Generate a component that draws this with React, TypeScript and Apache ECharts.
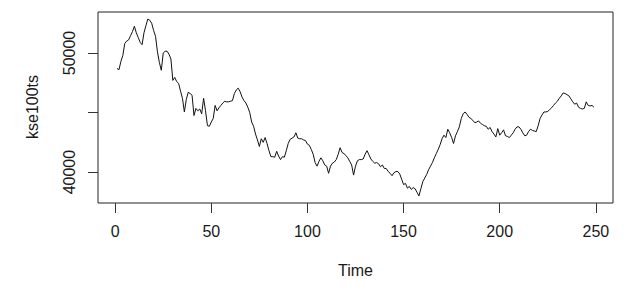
import React, { useEffect, useRef } from "react";
import * as echarts from "echarts";

const xTicks = [0, 50, 100, 150, 200, 250];
const yTicks = [40000, 45000, 50000];
const yLabels = [40000, 50000];
const xTitle = "Time";
const yTitle = "kse100ts";

const kse100ts = [
  48700, 48600, 49300, 49800, 50800, 51000, 51100, 51450, 51800, 52250,
  51700, 51300, 50900, 50700, 51700, 52300, 52850, 52750, 52500, 51900,
  51400, 50100, 49200, 48550, 50000, 50150, 50150, 49900, 49500, 47700,
  47950, 47600, 47450, 46800, 46200, 45050, 46100, 46700, 46600, 46450,
  44750, 45350, 45150, 45300, 44900, 46200, 45150, 43900, 43850, 44200,
  44500, 45600, 45150, 45400, 45600, 45800, 45950, 45900, 45900, 45950,
  46000, 46600, 46900, 47050, 46750, 46300, 46000, 45800, 45450, 45000,
  44200, 43850, 43200, 42700, 42150, 42800, 42500, 42900, 42400, 41800,
  41300, 41300, 41250, 41750, 41350, 41050, 41300, 41250, 41800, 42400,
  42750, 42850, 42950, 43300, 42850, 42800, 42800, 42700, 42650, 42350,
  42250, 41900, 41500, 40800, 40500, 40900, 41200, 40950, 40600, 40500,
  39900, 40500, 40750, 40850, 41050, 41500, 42050, 41650, 41550, 41400,
  41200, 40900, 40600, 39750, 40500, 40950, 41050, 41050, 41100, 41500,
  41800, 41450, 41100, 40900, 40750, 40800, 40700, 40450, 40600, 40300,
  40300, 40050, 39900, 39700, 39950, 40050, 40050, 39850, 39400, 38950,
  39050, 38650, 38800, 38550, 38700, 38600, 38300, 38000, 38600, 39200,
  39500, 39800, 40200, 40500, 40800, 41200, 41550, 41900, 42300, 42800,
  43100, 42900, 43600, 43300, 42900, 42400, 43050, 43400, 43800, 44500,
  44900, 45050, 44850, 44600, 44500, 44350, 44150, 44200, 44300, 44100,
  44000, 43900, 43850, 43600, 43750, 43400, 43200, 42950, 43650, 43100,
  43300, 43550, 43050, 43000, 42900, 43100, 43300, 43600, 43800, 43800,
  43600, 43300, 43050, 43100, 43400, 43600, 43500, 43450, 43400, 43900,
  44500, 44800, 45050, 45050, 45100, 45250, 45400, 45600, 45800, 45950,
  46200, 46400, 46650, 46600, 46500, 46400, 46150, 45900, 45700, 45800,
  45450, 45350, 45300, 45350, 45900, 45600, 45550, 45600, 45450,
];

export default function App() {
  const ref = useRef<HTMLDivElement>(null);
  useEffect(() => {
    if (!ref.current) return;
    const chart = echarts.init(ref.current, null, { renderer: "svg" });
    const n = kse100ts.length;
    const xr = n - 1;
    const xmin = 1 - 0.04 * xr;
    const xmax = n + 0.04 * xr;
    const vmin = Math.min(...kse100ts);
    const vmax = Math.max(...kse100ts);
    const yr = vmax - vmin;
    const font = "Liberation Sans, Arial, sans-serif";
    chart.setOption({
      animation: false,
      backgroundColor: "#fff",
      grid: {
        left: 98,
        right: 24,
        top: 12,
        bottom: 92,
        show: true,
        borderColor: "#222",
        borderWidth: 1,
        backgroundColor: "transparent",
      },
      xAxis: {
        type: "value",
        min: xmin,
        max: xmax,
        splitLine: { show: false },
        axisLine: { show: false, onZero: false },
        axisTick: {
          show: true,
          length: 10,
          inside: false,
          lineStyle: { color: "#333" },
          customValues: xTicks,
        },
        axisLabel: {
          customValues: xTicks,
          margin: 20,
          fontSize: 16,
          fontFamily: font,
          color: "#1a1a1a",
          formatter: (v: number) => String(v),
        },
      },
      yAxis: {
        type: "value",
        min: vmin - 0.04 * yr,
        max: vmax + 0.04 * yr,
        splitLine: { show: false },
        axisLine: { show: false, onZero: false },
        axisTick: {
          show: true,
          length: 10,
          inside: false,
          lineStyle: { color: "#333" },
          customValues: yTicks,
        },
        axisLabel: {
          customValues: yLabels,
          rotate: 90,
          margin: 21,
          fontSize: 16,
          fontFamily: font,
          color: "#1a1a1a",
          formatter: (v: number) => String(v),
        },
      },
      series: [
        {
          type: "line",
          data: kse100ts.map((v, i) => [i + 1, v]),
          showSymbol: false,
          symbol: "none",
          lineStyle: { color: "#111", width: 1 },
        },
      ],
      graphic: [
        {
          type: "text",
          x: 355.5,
          y: 270,
          style: {
            text: xTitle,
            fontSize: 16,
            fontFamily: font,
            fill: "#1a1a1a",
            align: "center",
            verticalAlign: "middle",
          },
        },
        {
          type: "text",
          x: 32,
          y: 107,
          rotation: Math.PI / 2,
          style: {
            text: yTitle,
            fontSize: 16,
            fontFamily: font,
            fill: "#1a1a1a",
            align: "center",
            verticalAlign: "middle",
          },
        },
      ],
    });
    return () => chart.dispose();
  }, []);
  return <div ref={ref} style={{ width: 637, height: 295, margin: -8 }} />;
}
